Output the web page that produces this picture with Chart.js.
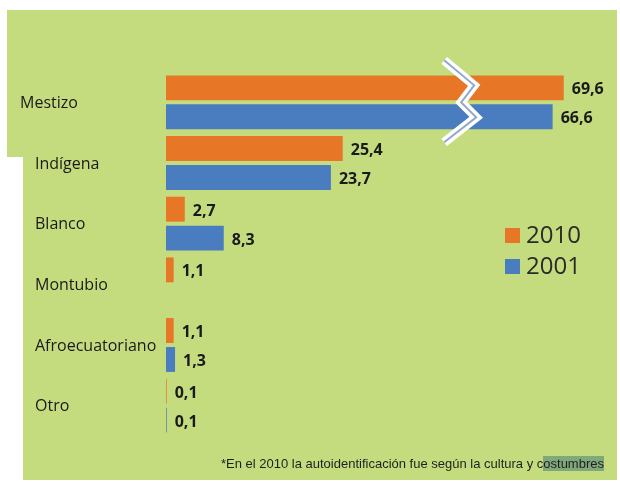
<!DOCTYPE html>
<html>
<head>
<meta charset="utf-8">
<script src="https://cdn.jsdelivr.net/npm/chart.js@4/dist/chart.umd.min.js"></script>
<style>
  html, body { margin: 0; padding: 0; background: #fff; }
  #wrap { position: relative; width: 620px; height: 483px; overflow: hidden; }
  #panel {
    position: absolute; left: 0; top: 0; width: 620px; height: 483px;
    background: #c5dc7e;
    clip-path: polygon(7px 10px, 617px 10px, 617px 480px, 23px 480px, 23px 157px, 7px 157px);
  }
  #chart { position: absolute; left: 0; top: 0; }
  #note {
    position: absolute; right: 16px; top: 455px; height: 18px; line-height: 18px;
    font-family: "Liberation Sans Narrow", "Arial Narrow", sans-serif; font-size: 13px;
    color: #1f1f1f; white-space: nowrap;
  }
  #note span { background: #80a87a; }
</style>
</head>
<body>
<div id="wrap">
  <div id="panel"></div>
  <canvas id="chart" width="620" height="483"></canvas>
  <div id="note">*En el 2010 la autoidentificación fue según la cultura y c<span>ostumbres</span></div>
</div>
<script>
const categories = ["Mestizo", "Indígena", "Blanco", "Montubio", "Afroecuatoriano", "Otro"];
const seriesNames = ["2010", "2001"];
const values2010 = [69.6, 25.4, 2.7, 1.1, 1.1, 0.1];
const values2001 = [66.6, 23.7, 8.3, null, 1.3, 0.1];

const ORANGE = "#e87627";
const BLUE = "#4a7dc0";
const TEXT = "#1a1a1a";

// linear scale with a break: [min, breakValue] takes breakFraction of the width, the rest is squeezed
class BrokenScale extends Chart.LinearScale {
  getPixelForValue(value) {
    const o = this.options;
    const split = this.left + (this.right - this.left) * o.breakFraction;
    if (value <= o.breakValue) {
      return this.left + (value - this.min) / (o.breakValue - this.min) * (split - this.left);
    }
    return split + (value - o.breakValue) / (this.max - o.breakValue) * (this.right - split);
  }
  getValueForPixel(pixel) {
    const o = this.options;
    const split = this.left + (this.right - this.left) * o.breakFraction;
    if (pixel <= split) return this.min + (pixel - this.left) / (split - this.left) * (o.breakValue - this.min);
    return o.breakValue + (pixel - split) / (this.right - split) * (this.max - o.breakValue);
  }
}
BrokenScale.id = "broken";
BrokenScale.defaults = Chart.LinearScale.defaults;
Chart.register(BrokenScale);

const fmt = v => v.toFixed(1).replace(".", ",");

const categoryLabels = {
  id: "categoryLabels",
  afterDraw(chart) {
    const { ctx } = chart;
    const y = chart.scales.y;
    ctx.save();
    ctx.font = "16px 'Open Sans'";
    ctx.fillStyle = TEXT;
    ctx.textBaseline = "middle";
    ctx.textAlign = "left";
    categories.forEach((name, i) => {
      const x = i === 0 ? 20 : 35;
      ctx.fillText(name, x, y.getPixelForValue(i) + 1);
    });
    ctx.restore();
  }
};

const valueLabels = {
  id: "valueLabels",
  afterDatasetsDraw(chart) {
    const { ctx } = chart;
    ctx.save();
    ctx.font = "bold 16px 'Open Sans'";
    ctx.fillStyle = TEXT;
    ctx.textBaseline = "middle";
    chart.data.datasets.forEach((ds, di) => {
      chart.getDatasetMeta(di).data.forEach((bar, i) => {
        const v = ds.data[i];
        if (v == null) return;
        ctx.fillText(fmt(v), bar.x + 8, bar.y + 2);
      });
    });
    ctx.restore();
  }
};

const breakMark = {
  id: "breakMark",
  afterDatasetsDraw(chart) {
    const { ctx } = chart;
    const xs = chart.scales.x;
    const x0 = xs.getPixelForValue(xs.options.breakValue) - 4;
    const y0 = chart.scales.y.getPixelForValue(0);
    const pts = [[-17, -42], [13, -17], [0, 0], [15, 15], [-17, 40]];
    const path = () => {
      ctx.beginPath();
      pts.forEach(([dx, dy], i) => i ? ctx.lineTo(x0 + dx, y0 + dy) : ctx.moveTo(x0 + dx, y0 + dy));
    };
    ctx.save();
    ctx.lineJoin = "miter";
    path(); ctx.strokeStyle = "#ffffff"; ctx.lineWidth = 9; ctx.stroke();
    path(); ctx.strokeStyle = "#93a9cc"; ctx.lineWidth = 2; ctx.stroke();
    ctx.restore();
  }
};

const legendBox = {
  id: "legendBox",
  afterDraw(chart) {
    const { ctx } = chart;
    ctx.save();
    ctx.font = "24px 'Open Sans'";
    ctx.textBaseline = "middle";
    chart.data.datasets.forEach((ds, i) => {
      const y = 236 + i * 31;
      ctx.fillStyle = ds.backgroundColor;
      ctx.fillRect(505, y - 8, 15, 15);
      ctx.fillStyle = "#2a2a2a";
      ctx.fillText(ds.label, 526, y);
    });
    ctx.restore();
  }
};

new Chart(document.getElementById("chart"), {
  type: "bar",
  data: {
    labels: categories,
    datasets: [
      { label: seriesNames[0], data: values2010, backgroundColor: ORANGE },
      { label: seriesNames[1], data: values2001, backgroundColor: BLUE },
    ],
  },
  options: {
    indexAxis: "y",
    responsive: false,
    animation: false,
    categoryPercentage: 0.955,
    barPercentage: 0.86,
    layout: { padding: { left: 166, right: 14, top: 72, bottom: 47 } },
    plugins: { legend: { display: false }, tooltip: { enabled: false } },
    scales: {
      x: { type: "broken", min: 0, max: 81, breakValue: 43, breakFraction: 0.68, display: false, grid: { display: false } },
      y: { display: false, grid: { display: false } },
    },
  },
  plugins: [categoryLabels, valueLabels, breakMark, legendBox],
});
</script>
</body>
</html>
